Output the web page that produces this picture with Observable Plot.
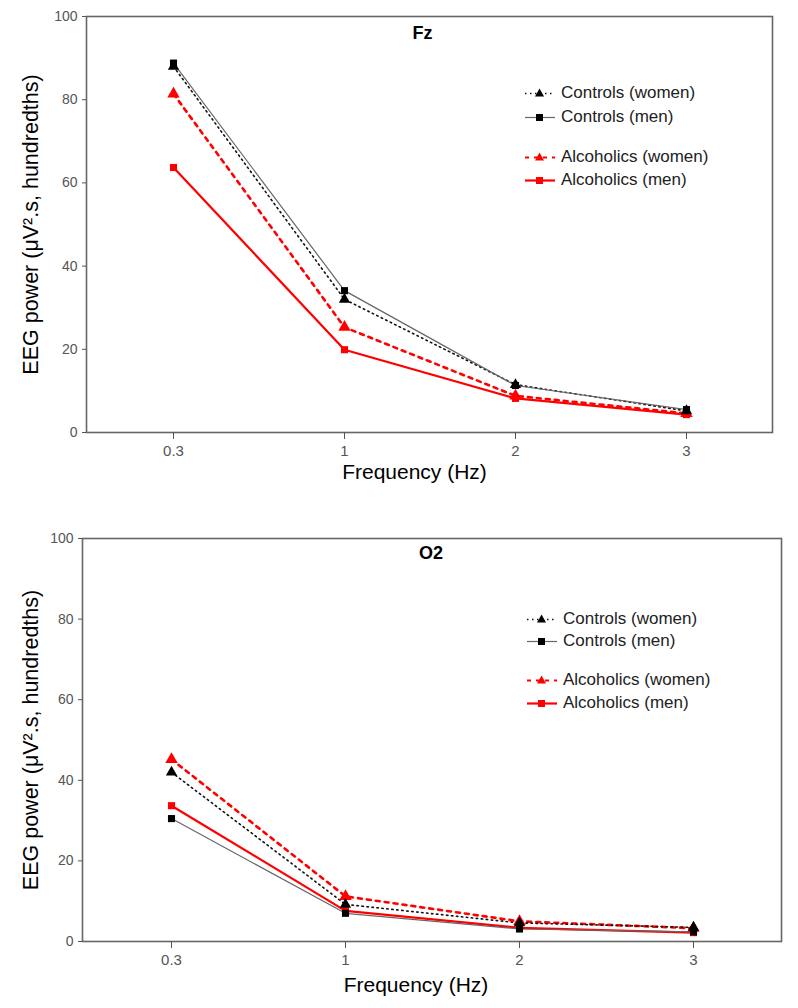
<!DOCTYPE html>
<html><head><meta charset="utf-8">
<script src="https://cdn.jsdelivr.net/npm/d3@7"></script>
<script src="https://cdn.jsdelivr.net/npm/@observablehq/plot@0.6"></script>
<style>
body{margin:0;background:#fff;font-family:"Liberation Sans",Arial,sans-serif;}
.panel{position:relative;width:798px;}
.panel svg{display:block;}
.legend{position:absolute;font-size:17px;color:#222;}
.legend .row{position:absolute;white-space:nowrap;display:flex;align-items:center;}
.legend .row svg{margin-right:6px;}
</style></head>
<body>
<div id="root"></div>
<script>
const freqs = ["0.3", "1", "2", "3"];
const yTicks = [0, 20, 40, 60, 80, 100];
const seriesNames = ["Controls (women)", "Controls (men)", "Alcoholics (women)", "Alcoholics (men)"];
const panelTitles = ["Fz", "O2"];
const xLabel = "Frequency (Hz)";
const yLabel = "EEG power (\u03bcV\u00b2.s, hundredths)";

const fzControlsWomen = [88.0, 32.0, 11.5, 5.2];
const fzControlsMen = [88.8, 34.1, 11.3, 5.5];
const fzAlcoholicsWomen = [81.4, 25.3, 8.8, 4.6];
const fzAlcoholicsMen = [63.7, 19.9, 8.2, 4.3];

const o2ControlsWomen = [42.0, 9.2, 4.6, 3.5];
const o2ControlsMen = [30.5, 7.0, 3.1, 2.4];
const o2AlcoholicsWomen = [45.2, 11.2, 5.0, 3.3];
const o2AlcoholicsMen = [33.7, 7.6, 3.4, 2.2];

const styles = {
  "Controls (women)": {stroke: "#111", strokeWidth: 1.6, dash: "1.5,3.5", fill: "#000", symbol: "triangle", r: 4.2},
  "Controls (men)": {stroke: "#666", strokeWidth: 1.2, dash: null, fill: "#000", symbol: "square", r: 4},
  "Alcoholics (women)": {stroke: "#ff0000", strokeWidth: 2.6, dash: "4,5", fill: "#ff0000", symbol: "triangle", r: 4.6},
  "Alcoholics (men)": {stroke: "#ff0000", strokeWidth: 2.2, dash: null, fill: "#ff0000", symbol: "square", r: 4}
};

function rows(cw, cm, aw, am) {
  const out = [];
  const vals = [cw, cm, aw, am];
  seriesNames.forEach((s, k) => freqs.forEach((f, i) => out.push({series: s, freq: f, value: vals[k][i]})));
  return out;
}

const drawOrder = ["Alcoholics (men)", "Alcoholics (women)", "Controls (women)", "Controls (men)"];

function chart(title, data, cfg) {
  const marks = [
    Plot.frame({stroke: "#666", strokeWidth: 1.6}),
    Plot.axisY({ticks: yTicks, tickSize: 4, tickPadding: 5, fontSize: 14, color: "#555", label: null, tickFormat: d => d}),
    Plot.axisX({tickSize: 7, tickPadding: 6, fontSize: 15, color: "#555", label: null})
  ];
  for (const s of drawOrder) {
    const st = styles[s];
    const d = data.filter(r => r.series === s);
    marks.push(Plot.line(d, {x: "freq", y: "value", stroke: st.stroke, strokeWidth: st.strokeWidth, strokeDasharray: st.dash || undefined}));
  }
  for (const s of drawOrder) {
    const st = styles[s];
    const d = data.filter(r => r.series === s);
    marks.push(Plot.dot(d, {x: "freq", y: "value", symbol: st.symbol, r: st.r, fill: st.fill, stroke: "none"}));
  }
  marks.push(Plot.text([title], {text: d => d, frameAnchor: "top", lineAnchor: "middle", dx: cfg.titleDx, dy: cfg.titleDy, fontWeight: "bold", fontSize: 18, fill: "#000"}));
  marks.push(Plot.text([xLabel], {text: d => d, frameAnchor: "bottom", lineAnchor: "middle", textAnchor: "middle", dx: cfg.xlDx, dy: cfg.xlDy, fontSize: 21, fill: "#000"}));
  marks.push(Plot.text([yLabel], {text: d => d, frameAnchor: "left", rotate: -90, textAnchor: "middle", lineAnchor: "middle", dx: cfg.ylDx, fontSize: 21.5, fill: "#000"}));
  return Plot.plot({
    width: 798, height: cfg.height,
    marginTop: cfg.mt, marginBottom: cfg.mb, marginLeft: cfg.ml, marginRight: cfg.mr,
    style: {fontFamily: '"Liberation Sans", Arial, sans-serif', background: "#fff"},
    x: {type: "point", domain: freqs},
    y: {domain: [0, 100]},
    marks
  });
}

function legend(left, top, gaps) {
  const div = document.createElement("div");
  div.className = "legend";
  div.style.left = left + "px";
  div.style.top = top + "px";
  let y = 0;
  seriesNames.forEach((s, i) => {
    const st = styles[s];
    const row = document.createElement("div");
    row.className = "row";
    row.style.top = (y - 10) + "px";
    const sym = st.symbol === "square"
      ? `<rect x="11" y="3" width="7" height="7" fill="${st.fill}"/>`
      : `<path d="M14.5,1.5 L19,9.5 L10,9.5 Z" fill="${st.fill}"/>`;
    row.innerHTML = `<svg width="30" height="13"><line x1="0" x2="30" y1="6.5" y2="6.5" stroke="${st.stroke}" stroke-width="${Math.min(st.strokeWidth, 2.2)}" ${st.dash ? `stroke-dasharray="${st.dash}"` : ""}/>${sym}</svg><span>${s}</span>`;
    div.appendChild(row);
    y += gaps[i] || 0;
  });
  return div;
}

const root = document.getElementById("root");
const p1 = document.createElement("div"); p1.className = "panel";
p1.appendChild(chart(panelTitles[0], rows(fzControlsWomen, fzControlsMen, fzAlcoholicsWomen, fzAlcoholicsMen),
  {height: 500, mt: 16, mb: 68, ml: 86, mr: 26, titleDx: -7, titleDy: 17, xlDx: -15, xlDy: 40, ylDx: -55}));
p1.appendChild(legend(525, 93, [24, 40, 23]));
root.appendChild(p1);

const p2 = document.createElement("div"); p2.className = "panel";
p2.appendChild(chart(panelTitles[1], rows(o2ControlsWomen, o2ControlsMen, o2AlcoholicsWomen, o2AlcoholicsMen),
  {height: 508, mt: 38, mb: 67, ml: 82, mr: 17, titleDx: -1, titleDy: 15, xlDx: -16, xlDy: 44, ylDx: -51}));
p2.appendChild(legend(527, 119, [22, 39, 23]));
root.appendChild(p2);
</script>
</body></html>
